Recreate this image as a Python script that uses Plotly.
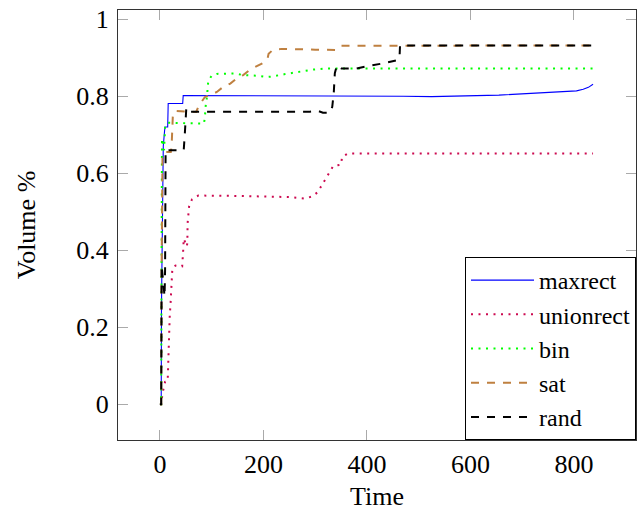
import plotly.graph_objects as go

# ---- data ----
maxrect_t = [0, 2.5, 3, 4, 5, 6.5, 9, 10, 15, 16, 44, 45, 470, 525, 655, 720, 785, 805, 818, 828, 837]
maxrect_v = [0, 0, 0.25, 0.45, 0.6, 0.67, 0.71, 0.72, 0.72, 0.781, 0.781, 0.802, 0.800, 0.799, 0.803, 0.807, 0.811, 0.814, 0.818, 0.823, 0.831]

unionrect_t = [0, 2.5, 5, 7.7, 10, 15, 16, 17, 19, 20.5, 22, 22.5, 24, 30, 43, 45, 46, 52, 53, 53.5, 54.5, 56.5, 62, 74,
               150, 200, 250, 280, 295, 305, 312, 319, 326, 335, 350, 352, 363, 837]
unionrect_v = [0, 0, 0.028, 0.049, 0.058, 0.06, 0.1, 0.19, 0.23, 0.26, 0.30, 0.338, 0.352, 0.36, 0.358, 0.40, 0.43, 0.41,
               0.42, 0.47, 0.497, 0.515, 0.532, 0.542, 0.541, 0.540, 0.538, 0.534, 0.540, 0.551, 0.566, 0.584, 0.599,
               0.619, 0.622, 0.642, 0.651, 0.651]

bin_t = [0, 2.5, 3, 3.5, 4, 6, 8, 10, 14, 85, 87, 88, 91, 93.5, 100, 110, 147, 160, 190, 205, 215, 240, 265, 294, 320, 837]
bin_v = [0, 0, 0.3, 0.6, 0.69, 0.67, 0.66, 0.72, 0.731, 0.729, 0.745, 0.77, 0.80, 0.841, 0.853, 0.858, 0.859, 0.855,
         0.853, 0.850, 0.851, 0.857, 0.863, 0.869, 0.872, 0.872]

sat_t = [0, 2.5, 3, 4, 5, 9.6, 21, 22.5, 24, 25, 29, 70, 75, 87, 97, 110, 122, 136, 148, 161, 174, 187, 203, 208, 210,
         218, 235, 300, 340, 350, 837]
sat_v = [0, 0, 0.3, 0.58, 0.65, 0.655, 0.655, 0.668, 0.70, 0.75, 0.762, 0.759, 0.775, 0.798, 0.803, 0.811, 0.824, 0.833,
         0.846, 0.855, 0.869, 0.878, 0.889, 0.898, 0.91, 0.92, 0.923, 0.921, 0.920, 0.931, 0.932]

rand_t = [0, 2.5, 3, 3.3, 9, 10, 11, 46, 48, 51, 55, 290, 305, 315, 328, 333, 336, 338, 342, 351, 380, 400, 430, 456,
          463, 464, 837]
rand_v = [0, 0, 0.2, 0.36, 0.28, 0.35, 0.66, 0.66, 0.70, 0.769, 0.760, 0.760, 0.762, 0.757, 0.757, 0.772, 0.81, 0.86,
          0.880, 0.872, 0.872, 0.878, 0.885, 0.893, 0.900, 0.932, 0.932]

x_ticks = [0, 200, 400, 600, 800]
y_ticks = [0, 0.2, 0.4, 0.6, 0.8, 1]
y_tick_labels = ["0", "0.2", "0.4", "0.6", "0.8", "1"]

FONT = "Liberation Serif"
FS = 26
LEGEND_FS = 24

fig = go.Figure()
fig.add_trace(go.Scatter(x=maxrect_t, y=maxrect_v, mode="lines", name="maxrect",
                         line=dict(color="#0000ff", width=1.1)))
fig.add_trace(go.Scatter(x=unionrect_t, y=unionrect_v, mode="lines", name="unionrect",
                         line=dict(color="#cc0a50", width=2, dash="2px,5.5px")))
fig.add_trace(go.Scatter(x=bin_t, y=bin_v, mode="lines", name="bin",
                         line=dict(color="#00ff00", width=2, dash="2px,5.5px")))
fig.add_trace(go.Scatter(x=sat_t, y=sat_v, mode="lines", name="sat",
                         line=dict(color="#bf8040", width=2, dash="8px,8px")))
fig.add_trace(go.Scatter(x=rand_t, y=rand_v, mode="lines", name="rand",
                         line=dict(color="#000000", width=2, dash="8px,8px")))

def axis_style(title_text, standoff, rng, tickvals, ticktext, tlstandoff):
    return dict(
        range=rng, tickvals=tickvals, ticktext=ticktext,
        showgrid=False, zeroline=False, automargin=False,
        showline=True, linecolor="#333333", linewidth=1.3, mirror="allticks",
        ticks="inside", ticklen=10, tickwidth=1, tickcolor="#aaaaaa",
        tickfont=dict(family=FONT, size=FS, color="black"),
        ticklabelstandoff=tlstandoff, ticklabeloverflow="allow",
        title=dict(text=title_text, standoff=standoff,
                   font=dict(family=FONT, size=FS, color="black")),
    )

fig.update_layout(
    width=639, height=512,
    margin=dict(l=118, r=3, t=10, b=72, autoexpand=False),
    paper_bgcolor="white", plot_bgcolor="white",
    font=dict(family=FONT, size=FS, color="black"),
    xaxis=axis_style("Time", 8, [-81, 920], x_ticks, [str(v) for v in x_ticks], 1),
    yaxis=axis_style("Volume %", 33, [-0.093, 1.024], y_ticks, y_tick_labels, 3),
    legend=dict(x=1, y=0, xanchor="right", yanchor="bottom", bgcolor="white",
                bordercolor="black", borderwidth=1, itemwidth=63, tracegroupgap=0,
                font=dict(family=FONT, size=LEGEND_FS, color="black")),
    showlegend=True,
)

# remove the default page-body margin so the figure sits at the window's top-left corner
fig.write_html("out.html", config={"displayModeBar": False},
               post_script="document.body.style.margin='0px';")
